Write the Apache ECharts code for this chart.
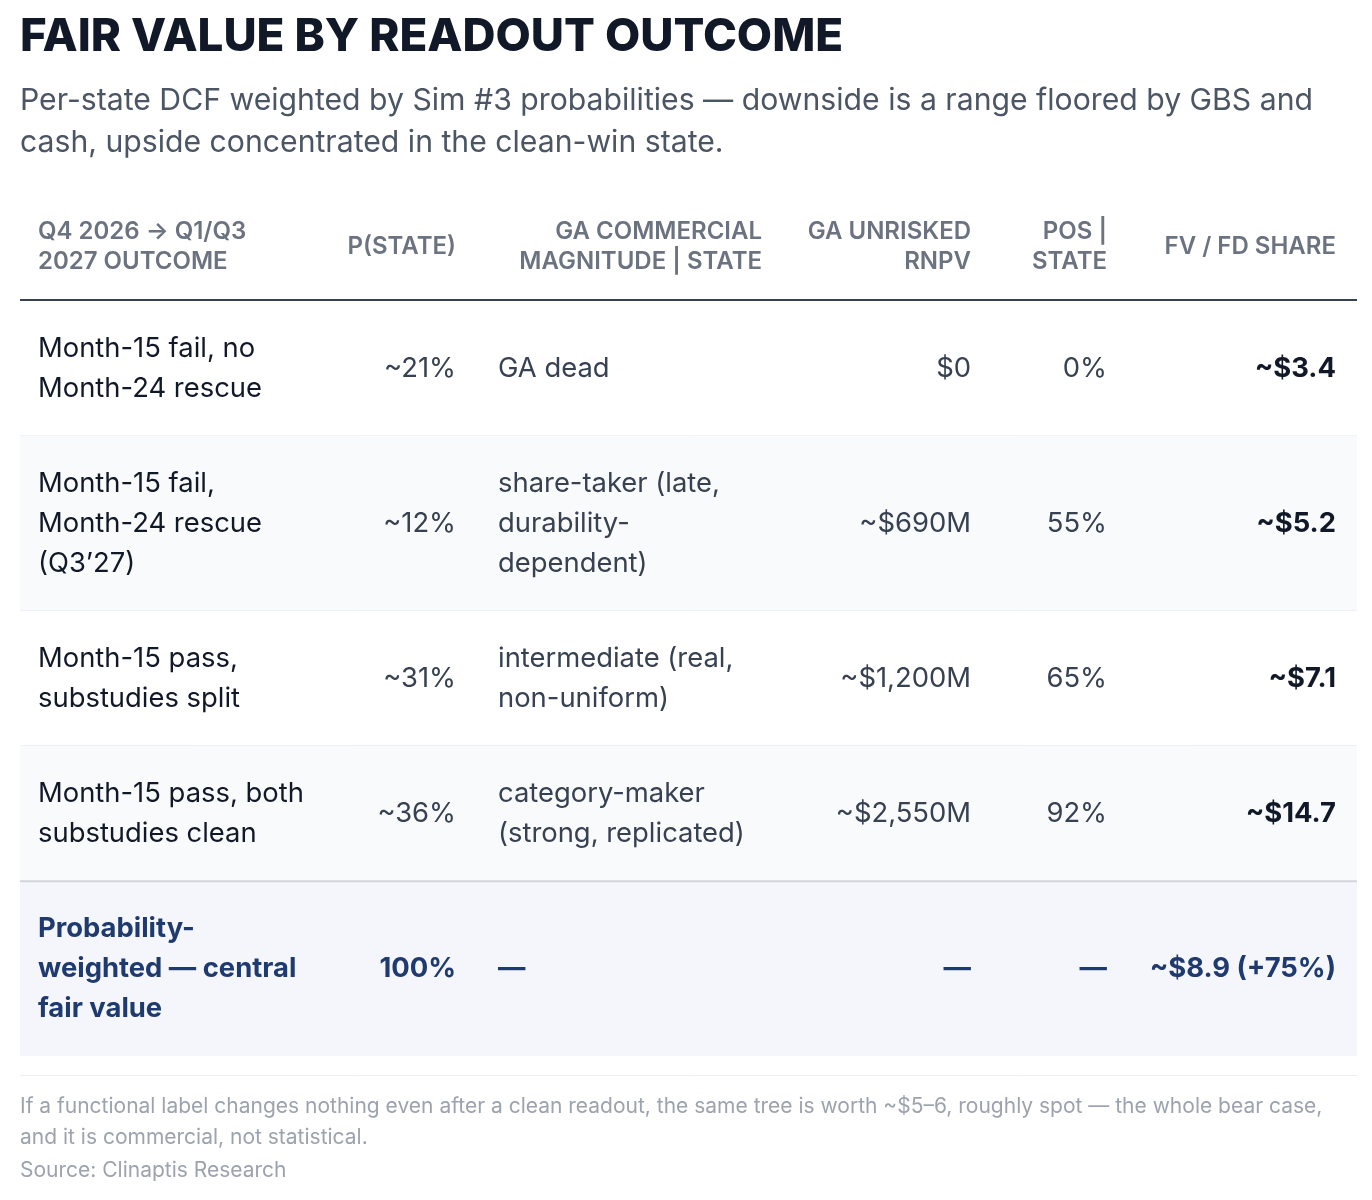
<!DOCTYPE html>
<html lang="en">
<head>
<meta charset="utf-8">
<title>Fair value by readout outcome</title>
<script src="https://cdn.jsdelivr.net/npm/echarts@6/dist/echarts.min.js"></script>
<style>
  html, body { margin: 0; padding: 0; background: #fff; }
  #main { width: 1372px; height: 1200px; }
</style>
</head>
<body>
<div id="main"></div>
<script>
// table data, one array per column
var headers = ['Q4 2026 \u2192 Q1/Q3\n2027 OUTCOME', 'P(STATE)', 'GA COMMERCIAL\nMAGNITUDE | STATE', 'GA UNRISKED\nRNPV', 'POS |\nSTATE', 'FV / FD SHARE'];
var outcomes = ['Month-15 fail, no\nMonth-24 rescue', 'Month-15 fail,\nMonth-24 rescue\n(Q3\u201927)', 'Month-15 pass,\nsubstudies split', 'Month-15 pass, both\nsubstudies clean', 'Probability-\nweighted \u2014 central\nfair value'];
var pState = ['~21%', '~12%', '~31%', '~36%', '100%'];
var magnitude = ['GA dead', 'share-taker (late,\ndurability-\ndependent)', 'intermediate (real,\nnon-uniform)', 'category-maker\n(strong, replicated)', '\u2014'];
var rnpv = ['$0', '~$690M', '~$1,200M', '~$2,550M', '\u2014'];
var pos = ['0%', '55%', '65%', '92%', '\u2014'];
var fvShare = ['~$3.4', '~$5.2', '~$7.1', '~$14.7', '~$8.9 (+75%)'];

var titleText = 'FAIR VALUE BY READOUT OUTCOME';
var subText = 'Per-state DCF weighted by Sim #3 probabilities \u2014 downside is a range floored by GBS and\ncash, upside concentrated in the clean-win state.';
var noteText = 'If a functional label changes nothing even after a clean readout, the same tree is worth ~$5\u20136, roughly spot \u2014 the whole bear case,\nand it is commercial, not statistical.';
var sourceText = 'Source: Clinaptis Research';

var FONT = 'Inter, "Noto Sans", sans-serif';
var columns = [outcomes, pState, magnitude, rnpv, pos, fvShare];
// anchors relative to table left edge
var bodyCols = [
  { x: 18, align: 'left' },
  { x: 436, align: 'right' },
  { x: 478, align: 'left' },
  { x: 951, align: 'right' },
  { x: 1087, align: 'right' },
  { x: 1316, align: 'right' }
];
var headCols = [
  { x: 18, align: 'left' },
  { x: 436, align: 'right' },
  { x: 742, align: 'right' },
  { x: 951, align: 'right' },
  { x: 1087, align: 'right' },
  { x: 1316, align: 'right' }
];
var TABLE_W = 1337;
var PAD = 28, LINE = 39.5;

// row heights from the number of wrapped lines
var rowStart = [], rowEnd = [];
var acc = 0;
outcomes.forEach(function (o, i) {
  var lines = 1;
  columns.forEach(function (col) { lines = Math.max(lines, col[i].split('\n').length); });
  rowStart.push(acc);
  acc += PAD * 2 + lines * LINE;
  rowEnd.push(acc);
});
var total = acc;
var lastRow = outcomes.length - 1;

var chart = echarts.init(document.getElementById('main'));

function renderRow(params, api) {
  var i = api.value(0);
  var p0 = api.coord([0, rowStart[i]]);
  var p1 = api.coord([TABLE_W, rowEnd[i]]);
  var cy = (p0[1] + p1[1]) / 2;
  var isTotal = i === lastRow;
  var kids = [];
  var bg = isTotal ? '#f4f6fb' : (i % 2 === 1 ? '#f9fafb' : '#ffffff');
  kids.push({ type: 'rect', shape: { x: p0[0], y: p0[1], width: p1[0] - p0[0], height: p1[1] - p0[1] }, style: { fill: bg } });
  if (isTotal) {
    kids.push({ type: 'line', shape: { x1: p0[0], y1: p0[1], x2: p1[0], y2: p0[1] }, style: { stroke: '#d1d5db', lineWidth: 2 } });
  } else if (i < lastRow - 1) {
    kids.push({ type: 'line', shape: { x1: p0[0], y1: p1[1] - 0.5, x2: p1[0], y2: p1[1] - 0.5 }, style: { stroke: '#eef0f3', lineWidth: 1 } });
  }
  columns.forEach(function (col, c) {
    var xy = api.coord([bodyCols[c].x, 0]);
    var color = isTotal ? '#1e3a6e' : (c === 0 || c === 5 ? '#111827' : '#374151');
    kids.push({
      type: 'text',
      style: {
        text: col[i],
        x: xy[0],
        y: cy,
        align: bodyCols[c].align,
        verticalAlign: 'middle',
        lineHeight: 40,
        fontSize: 27.4,
        fontFamily: FONT,
        fontWeight: (isTotal || c === 5) ? 700 : 400,
        fill: color
      }
    });
  });
  return { type: 'group', children: kids };
}

var graphics = [
  { type: 'text', left: 20, top: 14, style: { text: titleText, fontSize: 45.7, fontWeight: 800, fontFamily: FONT, fill: '#111827' } },
  { type: 'text', left: 20, top: 80, style: { text: subText, fontSize: 30.2, lineHeight: 42, fontFamily: FONT, fill: '#4b5563' } },
  { type: 'line', shape: { x1: 20, y1: 300, x2: 1357, y2: 300 }, style: { stroke: '#374151', lineWidth: 2 } },
  { type: 'line', shape: { x1: 20, y1: 1075.5, x2: 1357, y2: 1075.5 }, style: { stroke: '#eceef1', lineWidth: 1 } },
  { type: 'text', left: 20, top: 1091, style: { text: noteText, fontSize: 21, lineHeight: 31, fontFamily: FONT, fill: '#9ca3af' } },
  { type: 'text', left: 20, top: 1155, style: { text: sourceText, fontSize: 21, lineHeight: 31, fontFamily: FONT, fill: '#9ca3af' } }
];
headers.forEach(function (h, c) {
  graphics.push({
    type: 'text',
    x: 20 + headCols[c].x,
    y: 247,
    style: {
      text: h,
      align: headCols[c].align,
      verticalAlign: 'middle',
      fontSize: 24,
      lineHeight: 30,
      fontWeight: 600,
      fontFamily: FONT,
      fill: '#6b7280'
    }
  });
});

var option = {
  animation: false,
  backgroundColor: '#ffffff',
  grid: { left: 20, top: 301, width: TABLE_W, height: 755 },
  xAxis: { type: 'value', min: 0, max: TABLE_W, show: false },
  yAxis: { type: 'value', min: 0, max: total, inverse: true, show: false },
  graphic: graphics,
  series: [{
    type: 'custom',
    renderItem: renderRow,
    clip: false,
    data: outcomes.map(function (o, i) { return [i]; })
  }]
};
chart.setOption(option);
</script>
</body>
</html>
